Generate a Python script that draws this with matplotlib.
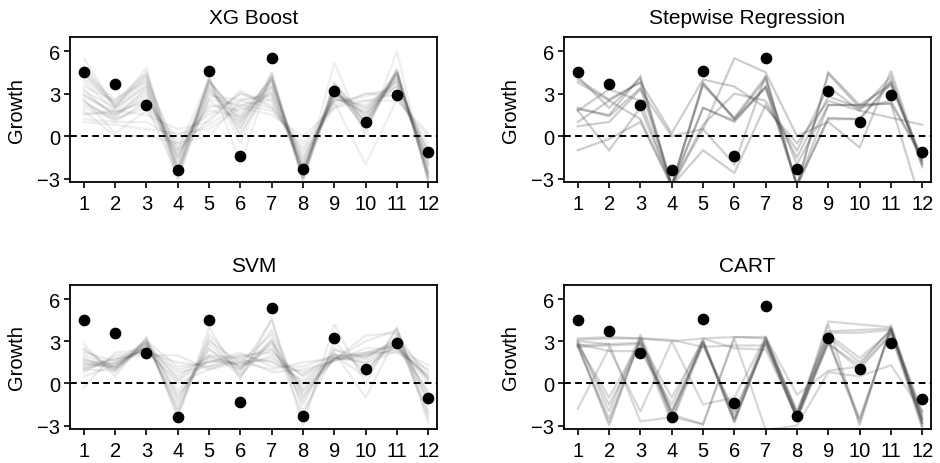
import matplotlib
matplotlib.use("Agg")
import matplotlib.pyplot as plt

plt.rcParams['font.family'] = ['Liberation Sans', 'DejaVu Sans']

months = list(range(1, 13))
actual = [4.5, 3.7, 2.2, -2.4, 4.6, -1.4, 5.5, -2.3, 3.2, 1.0, 2.9, -1.1]
actual_svm = [4.5, 3.6, 2.2, -2.4, 4.5, -1.3, 5.4, -2.3, 3.2, 1.0, 2.9, -1.0]

xgb_lines = [
    [5.0, 2.2, 4.0, -1.0, 4.0, 1.0, 4.2, -2.5, 3.5, 1.0, 4.5, -2.5],
    [4.5, 2.0, 3.8, -2.0, 3.8, 1.5, 4.0, -3.0, 3.2, 0.8, 4.3, -2.8],
    [3.0, 1.5, 3.0, -1.5, 3.0, 2.0, 3.5, -2.5, 3.0, 1.5, 4.0, -2.0],
    [2.5, 1.0, 2.5, -0.5, 2.0, 2.5, 3.0, -2.0, 2.8, 2.0, 3.5, -1.5],
    [2.0, 1.2, 2.0, 0.0, 1.5, 3.0, 2.5, -1.5, 2.5, 2.5, 3.0, -1.0],
    [1.5, 1.8, 1.5, 0.5, 1.0, 3.2, 2.0, -1.0, 2.2, 3.0, 2.8, -0.5],
    [1.0, 0.8, 0.5, 0.2, 0.5, 2.0, 1.5, 0.0, 2.0, 2.5, 2.5, 0.0],
    [3.5, 2.5, 4.5, -2.5, 3.5, 0.5, 4.5, -2.8, 3.8, 1.2, 4.6, -3.0],
    [4.0, 2.3, 4.2, -3.0, 4.0, -0.5, 4.2, -3.0, 3.5, 0.5, 4.8, -3.2],
    [2.8, 1.6, 3.2, -2.2, 2.5, 1.0, 3.8, -2.2, 3.0, 1.8, 4.2, -2.5],
    [1.8, 0.0, 0.0, -0.5, 0.0, 2.5, 2.0, -0.5, 2.5, 2.8, 3.5, -1.8],
    [5.5, 2.0, 4.8, -2.8, 4.2, -2.0, 4.5, -3.2, 5.2, 0.0, 6.0, -3.3],
    [2.2, 1.4, 2.8, -1.2, 2.2, 1.8, 3.0, -1.8, 2.6, 2.2, 3.8, -1.2],
    [3.2, 2.0, 3.5, -1.8, 3.2, 1.2, 3.2, -2.6, 3.3, 1.0, 4.4, -2.2],
    [1.2, 1.0, 1.0, -0.2, 0.8, 2.2, 1.8, -0.8, 2.4, -2.0, 2.6, 0.2],
    [2.6, 0.2, 1.8, -1.0, 1.2, 3.0, 2.2, -1.2, 2.0, 3.0, 3.2, -1.5],
    [3.8, 1.8, 3.6, -2.6, 3.8, 0.8, 4.0, -2.8, 3.6, 1.4, 4.6, -2.8],
    [4.2, 2.4, 4.4, -1.6, 3.6, 0.2, 3.6, -2.4, 3.4, 0.6, 4.5, -2.6],
    [2.4, 1.2, 2.2, -2.8, 2.8, 2.6, 2.8, -2.0, 3.0, 2.0, 4.0, -2.0],
    [1.6, 1.6, 2.6, -0.8, 1.8, 1.4, 3.4, -1.6, 2.8, 1.6, 3.6, -1.0],
    [4.8, 2.1, 4.3, -2.2, 4.1, 0.0, 4.3, -2.9, 3.4, 0.4, 4.7, -3.1],
    [3.3, 1.3, 3.4, -3.1, 3.3, 0.6, 3.9, -3.1, 3.3, 1.1, 4.4, -2.9],
    [2.9, 1.7, 2.4, -1.4, 2.6, 2.2, 2.6, -2.3, 2.7, 1.7, 3.9, -1.6],
    [4.4, 2.6, 3.9, -2.4, 3.9, 1.3, 4.1, -2.7, 3.7, 0.9, 4.5, -2.7],
]

step_lines = [
    [4.2, 2.0, 4.1, -3.5, 3.7, 1.2, 4.0, -3.5, 4.5, 2.2, 3.6, -1.7],
    [1.9, 1.5, 4.2, -3.5, 3.8, 1.2, 3.5, -3.5, 2.2, 2.2, 2.3, -1.5],
    [1.8, 3.3, 2.5, -3.5, 0.5, -2.0, 4.3, -3.5, 1.3, 1.2, 3.9, -2.0],
    [1.8, -1.0, 2.0, -3.5, 2.0, 1.0, 3.5, -2.0, 2.2, 2.2, 2.3, -5.0],
    [4.0, 2.6, 3.8, -3.5, 3.6, 1.3, 4.2, -3.5, 4.4, 2.0, 3.8, -1.6],
    [3.8, 2.5, 3.8, 0.2, 4.0, 3.5, 2.0, -0.5, 2.5, 1.8, 1.3, 0.8],
    [0.7, 1.0, 3.3, 0.0, 0.5, 5.5, 4.5, 0.0, 1.0, -0.8, 4.6, -2.0],
    [1.0, 2.5, 1.2, -3.5, 0.8, 3.0, 2.5, -1.5, 2.8, 2.0, 2.5, -1.5],
    [-1.0, -0.2, 1.0, -3.5, -1.0, -2.6, 2.2, -1.0, 3.5, 1.8, 4.2, -2.2],
    [2.0, 1.4, 3.4, -3.5, 2.0, 1.1, 3.4, -3.5, 1.2, 1.2, 3.7, -1.8],
]

svm_lines = [
    [1.5, 1.0, 3.0, -2.0, 3.5, 1.0, 4.5, -2.0, 2.0, 0.5, 3.5, -2.5],
    [2.0, 1.2, 2.8, -1.5, 3.0, 1.5, 3.5, -1.5, 2.5, 1.0, 3.0, -2.0],
    [1.2, 1.5, 2.5, 0.5, 2.0, 1.8, 2.5, -0.5, 1.8, 2.0, 2.8, 0.0],
    [0.8, 2.0, 2.2, 1.5, 1.2, 2.0, 1.5, 0.8, 1.6, 2.5, 2.5, 0.5],
    [2.5, 0.8, 3.2, -1.0, 2.5, 0.5, 3.0, -0.5, 1.7, 3.0, 3.8, -1.5],
    [1.0, 1.8, 2.0, 2.0, 1.0, 1.5, 1.0, 1.5, 1.8, 2.2, 2.2, 1.0],
    [0.5, 1.3, 2.6, 1.0, 1.5, 2.2, 1.2, 1.2, 2.0, 2.0, 2.4, 1.3],
    [2.8, 0.5, 3.3, -2.5, 4.0, 0.3, 4.6, -3.0, 4.2, 0.0, 4.0, -2.8],
    [1.8, 1.0, 2.8, -0.5, 2.0, 1.2, 2.0, 0.0, 1.8, 1.5, 2.6, -0.5],
    [-0.3, 2.2, 2.4, 0.0, 1.0, 1.8, 0.8, 1.0, 1.6, 2.1, 3.0, 0.8],
    [1.4, 1.2, 2.9, -1.8, 2.8, 0.8, 3.8, -1.0, 2.2, -1.0, 3.4, -1.0],
    [2.2, 1.6, 3.0, 1.2, 1.5, 2.0, 2.2, 0.5, 1.7, 3.4, 3.6, 0.2],
    [1.0, 0.9, 2.7, -0.8, 1.8, 1.0, 2.8, -1.2, 2.4, 1.8, 3.2, -0.8],
    [1.6, 1.4, 2.5, 0.8, 1.2, 1.6, 1.6, 0.2, 1.9, 2.2, 2.7, 0.4],
    [2.4, 1.1, 3.1, -2.2, 3.2, 0.6, 3.2, -2.4, 3.0, 0.6, 3.9, -2.2],
    [1.3, 1.7, 2.3, 0.2, 1.6, 1.4, 1.8, 0.6, 2.1, 1.4, 2.3, 0.6],
    [1.7, 1.1, 2.7, -1.2, 2.4, 1.1, 3.0, -0.8, 1.7, 1.9, 2.9, -1.2],
    [1.1, 1.4, 2.9, 0.3, 1.9, 1.3, 2.4, -0.2, 1.8, 1.7, 2.6, 0.3],
]

cart_lines = [
    [2.7, -3.0, 3.3, -2.4, 3.0, -2.7, 3.0, -2.3, 3.2, -2.5, 3.8, -2.6],
    [2.8, -1.0, 3.0, -1.0, 3.0, -2.5, 3.2, -2.5, 3.0, -2.8, 4.0, -3.0],
    [2.9, -1.5, 2.8, -2.8, 2.8, -2.2, 3.3, -2.2, 3.5, 1.8, 3.7, -2.4],
    [3.1, 3.2, 3.2, 3.1, 2.6, 2.7, 2.7, -2.3, 4.4, 4.2, 4.0, -2.2],
    [2.6, 2.7, 2.8, -2.2, -2.9, 3.3, 3.2, -2.0, 3.6, 3.6, 3.8, -2.0],
    [3.0, 2.8, -2.7, -2.4, -2.9, 3.2, -3.3, -3.0, 0.8, 0.5, 1.3, -2.0],
    [-1.8, 2.5, -2.0, 3.0, -1.5, -1.0, 3.3, -0.8, 0.9, 1.2, 3.5, -2.8],
    [2.8, 2.3, 2.3, -1.5, 3.2, 2.5, 2.4, -2.4, 2.8, 1.3, 3.9, -3.0],
    [3.0, -2.0, 3.5, -2.0, 2.7, -2.0, 2.8, -2.5, 4.2, -3.0, 4.2, -2.6],
    [2.6, -2.5, 3.2, -2.6, 3.1, -2.5, 3.0, -2.6, 2.9, 1.0, 3.5, -3.2],
    [3.2, 3.3, 3.2, 3.0, 3.2, 3.3, 3.3, -2.0, 3.7, 3.8, 3.9, -2.5],
    [2.7, -2.8, 3.1, -2.1, 2.9, -2.8, 3.1, -2.2, 3.0, -2.6, 3.9, -2.8],
    [2.7, 2.8, 2.9, -2.0, 3.0, -2.7, 3.0, -2.5, 3.3, 1.5, 3.8, -2.8],
]

titles = ["XG Boost", "Stepwise Regression", "SVM", "CART"]
yticks = [-3, 0, 3, 6]

W, H = 940, 464
fig = plt.figure(figsize=(W / 100, H / 100), dpi=100)

# axes rectangles in pixels: left, top, right, bottom
rects = [(70, 38, 437, 183), (564, 38, 931, 183),
         (70, 286, 437, 430), (564, 286, 931, 430)]
panels = [(xgb_lines, 0.09, actual), (step_lines, 0.28, actual),
          (svm_lines, 0.11, actual_svm), (cart_lines, 0.22, actual)]

for (l, t, r, b), title, (lines, alpha, act) in zip(rects, titles, panels):
    ax = fig.add_axes([l / W, 1 - b / H, (r - l) / W, (b - t) / H])
    for ln in lines:
        ax.plot(months, ln, color='0.3', alpha=alpha, lw=1.6, solid_joinstyle='miter')
    ax.axhline(0, color='black', lw=1.4, linestyle=(0, (3.5, 2.2)), zorder=3)
    ax.plot(months, act, 'o', color='black', markersize=7.4, zorder=4)
    ax.set_xlim(0.56, 12.28)
    ax.set_ylim(-3.24, 7.0)
    ax.set_xticks(months)
    ax.set_yticks(yticks)
    ax.set_yticklabels(['\u22123', '0', '3', '6'])
    ax.tick_params(axis='both', labelsize=14.5, length=4, width=1.2, direction='out', color='black')
    ax.tick_params(axis='x', pad=5)
    ax.tick_params(axis='y', pad=3)
    for sp in ax.spines.values():
        sp.set_linewidth(1.3)
    ax.set_title(title, fontsize=15, pad=10)
    ax.set_ylabel("Growth", fontsize=14.5, labelpad=8)

fig.savefig("out.png", dpi=100)
